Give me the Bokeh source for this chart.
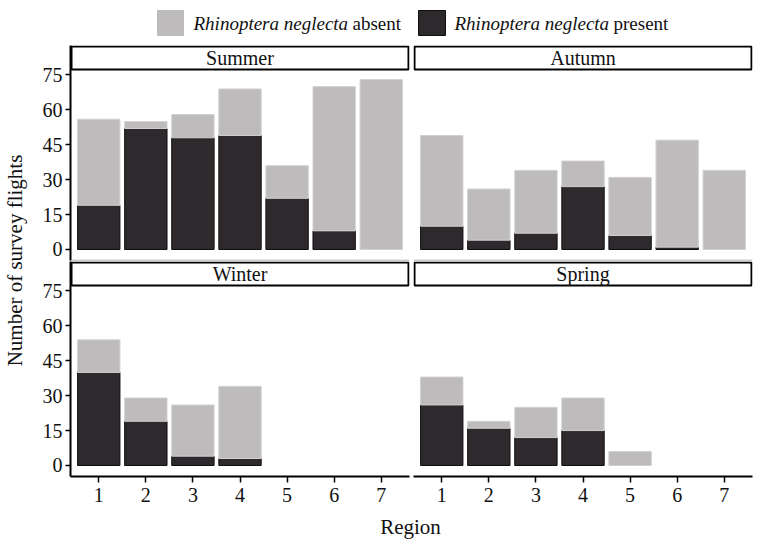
import math
from bokeh.plotting import figure
from bokeh.layouts import column, row
from bokeh.models import Range1d, FixedTicker, Span
from bokeh.core.properties import value
from bokeh.embed import file_html
from bokeh.resources import INLINE

# ---------------- data ----------------
regions = [1, 2, 3, 4, 5, 6, 7]
seasons = ["Summer", "Autumn", "Winter", "Spring"]
present = {
    "Summer": [19, 52, 48, 49, 22, 8, 0],
    "Autumn": [10, 4, 7, 27, 6, 1, 0],
    "Winter": [40, 19, 4, 3, 0, 0, 0],
    "Spring": [26, 16, 12, 15, 0, 0, 0],
}
absent = {
    "Summer": [37, 3, 10, 20, 14, 62, 73],
    "Autumn": [39, 22, 27, 11, 25, 46, 34],
    "Winter": [14, 10, 22, 31, 0, 0, 0],
    "Spring": [12, 3, 13, 14, 6, 0, 0],
}
y_ticks = [0, 15, 30, 45, 60, 75]
legend_species = "Rhinoptera neglecta"
legend_labels = ["absent", "present"]
y_title = "Number of survey flights"
x_title = "Region"

# ---------------- style / layout ----------------
FONT = value("Liberation Serif")
C_ABS = "#bebbbc"
C_ABS_LINE = "#d2d0d0"
C_PRES = "#2d292d"
C_PRES_LINE = "#111011"
TXT = "#111111"

TOTAL_W = 764
W_YLAB = 28
FRAME_W = 339
LEFT_MB = (42, 2)
RIGHT_MB = (2, 12)
LEG_H = 45
FRAME_H = 215          # strip (24 px) + plotting area
STRIP_PX = 24
TOP_BORDER_B = 1
BOT_BORDER_B = 36
XLAB_H = 540 - LEG_H - 2 * FRAME_H - TOP_BORDER_B - BOT_BORDER_B

x_rng = Range1d(0.4, 7.6)
y_rng = Range1d(-4.73, 87.67)


def panel(season, left, bottom):
    mbl, mbr = LEFT_MB if left else RIGHT_MB
    mbb = BOT_BORDER_B if bottom else TOP_BORDER_B
    p = figure(width=mbl + FRAME_W + mbr, height=FRAME_H + mbb,
               x_range=x_rng, y_range=y_rng,
               toolbar_location=None, output_backend="svg",
               min_border_left=mbl, min_border_right=mbr,
               min_border_top=0, min_border_bottom=mbb)
    p.extra_x_ranges = {"px": Range1d(0, FRAME_W)}
    p.extra_y_ranges = {"px": Range1d(FRAME_H, 0)}
    p.grid.visible = False
    p.outline_line_color = None

    # bars (stacked: present at the bottom, absent on top)
    pres = present[season]
    ab = absent[season]
    xs_p = [r for r, v in zip(regions, pres) if v > 0]
    tp = [v for v in pres if v > 0]
    p.vbar(x=xs_p, width=0.9, bottom=0, top=tp,
           fill_color=C_PRES, line_color=C_PRES_LINE, line_width=1)
    xs_a = [r for r, v in zip(regions, ab) if v > 0]
    bot_a = [pv for pv, v in zip(pres, ab) if v > 0]
    top_a = [pv + v for pv, v in zip(pres, ab) if v > 0]
    p.vbar(x=xs_a, width=0.9, bottom=bot_a, top=top_a,
           fill_color=C_ABS, line_color=C_ABS_LINE, line_width=1)

    # facet strip
    p.quad(left=[1], right=[FRAME_W - 1], top=[1], bottom=[STRIP_PX],
           fill_color="white", line_color="black", line_width=2,
           x_range_name="px", y_range_name="px")
    p.text(x=[FRAME_W / 2], y=[STRIP_PX / 2 + 0.5], text=[season],
           text_font=FONT, text_font_size="20px", text_align="center",
           text_baseline="middle", text_color=TXT,
           x_range_name="px", y_range_name="px")

    ya = p.yaxis[0]
    if left:
        ya.ticker = FixedTicker(ticks=y_ticks)
        ya.minor_tick_line_color = None
        ya.major_tick_in = 0
        ya.major_tick_out = 5
        ya.major_tick_line_width = 1.5
        ya.axis_line_width = 2
        ya.major_label_standoff = 3
        ya.major_label_text_font = "Liberation Serif"
        ya.major_label_text_font_size = "20px"
        ya.major_label_text_color = TXT
    else:
        ya.visible = False

    xa = p.xaxis[0]
    if bottom:
        xa.ticker = FixedTicker(ticks=regions)
        xa.minor_tick_line_color = None
        xa.major_tick_in = 0
        xa.major_tick_out = 6
        xa.major_tick_line_width = 1.5
        xa.axis_line_width = 2
        xa.major_label_standoff = 5
        xa.major_label_text_font = "Liberation Serif"
        xa.major_label_text_font_size = "20px"
        xa.major_label_text_color = TXT
    else:
        xa.visible = False
        p.add_layout(Span(location=y_rng.start, dimension="width",
                          line_color="#9a9a9a", line_width=1.5))
    return p


# legend
leg = figure(width=TOTAL_W, height=LEG_H,
             x_range=(0, TOTAL_W), y_range=(LEG_H, 0),
             toolbar_location=None, output_backend="svg", min_border=0)
leg.axis.visible = False
leg.grid.visible = False
leg.outline_line_color = None
leg.quad(left=[157], right=[183], top=[10], bottom=[35],
         fill_color=C_ABS, line_color=C_ABS)
leg.quad(left=[418], right=[445], top=[10], bottom=[35],
         fill_color=C_PRES, line_color=C_PRES_LINE)
leg.text(x=[193, 454], y=[22.5, 22.5], text=[legend_species, legend_species],
         text_font=FONT, text_font_style="italic", text_font_size="19px",
         text_baseline="middle", text_color=TXT)
leg.text(x=[352, 613], y=[22.5, 22.5], text=legend_labels,
         text_font=FONT, text_font_size="19px",
         text_baseline="middle", text_color=TXT)

# y label
grid_h = 2 * FRAME_H + TOP_BORDER_B + BOT_BORDER_B
ylab = figure(width=W_YLAB, height=grid_h, x_range=(0, W_YLAB),
              y_range=(grid_h, 0), toolbar_location=None,
              output_backend="svg", min_border=0)
ylab.axis.visible = False
ylab.grid.visible = False
ylab.outline_line_color = None
ylab.text(x=[14.5], y=[215], text=[y_title], angle=math.pi / 2,
          text_font=FONT, text_font_size="21px", text_align="center",
          text_baseline="middle", text_color=TXT)

# x label
xlab = figure(width=TOTAL_W, height=XLAB_H,
              x_range=(0, TOTAL_W), y_range=(XLAB_H, 0),
              toolbar_location=None, output_backend="svg", min_border=0)
xlab.axis.visible = False
xlab.grid.visible = False
xlab.outline_line_color = None
xlab.text(x=[410], y=[XLAB_H / 2], text=[x_title], text_font=FONT,
          text_font_size="21px", text_align="center",
          text_baseline="middle", text_color=TXT)

grid = column(
    row(panel("Summer", True, False), panel("Autumn", False, False), spacing=0),
    row(panel("Winter", True, True), panel("Spring", False, True), spacing=0),
    spacing=0,
)
layout = column(leg, row(ylab, grid, spacing=0), xlab, spacing=0)

open("out.html", "w").write(file_html(layout, INLINE))
